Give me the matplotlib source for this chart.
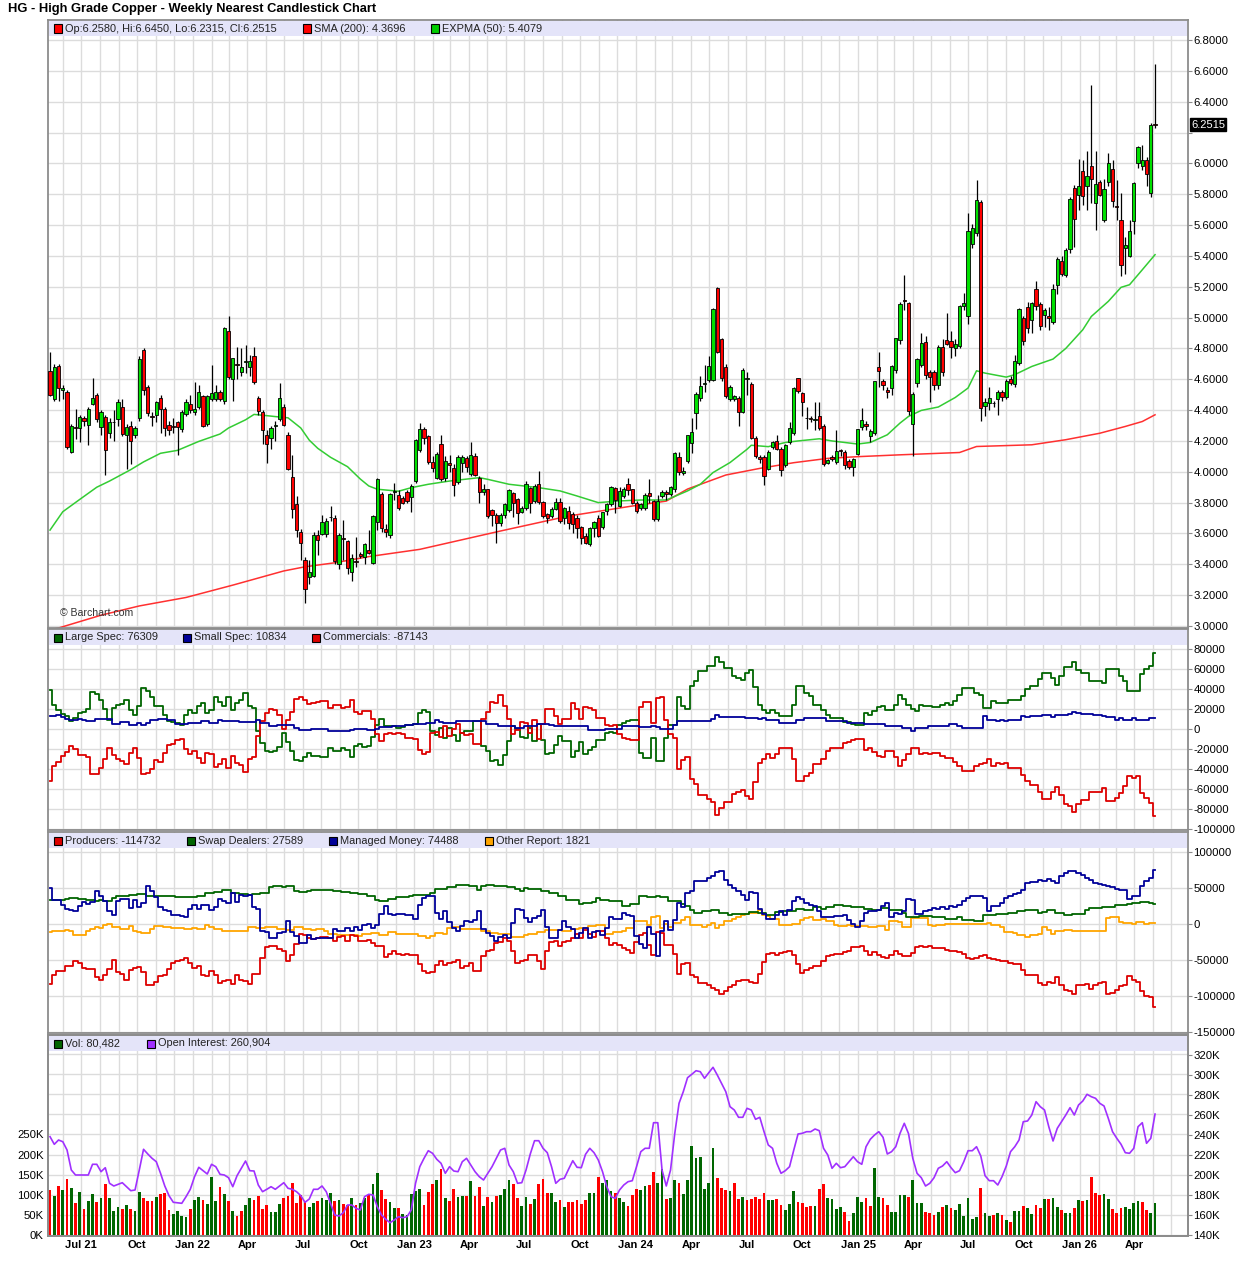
import numpy as np
import pandas as pd
import matplotlib
matplotlib.use('Agg')
import matplotlib.pyplot as plt
import matplotlib.dates as mdates
from matplotlib.patches import Rectangle

plt.rcParams['font.family'] = ['Liberation Sans', 'DejaVu Sans']

W, H = 1236, 1276

# weekly bars, May 2021 - May 2026
weeks = pd.date_range('2021-05-11', periods=261, freq='7D')

# ---- price candles (USD/lb) ----
opens = [
    4.655, 4.475, 4.686, 4.530, 4.517, 4.130, 4.290, 4.285, 4.350, 4.305,
    4.440, 4.500, 4.290, 4.355, 4.250, 4.320, 4.340, 4.420, 4.237, 4.300,
    4.240, 4.350, 4.790, 4.550, 4.360, 4.370, 4.480, 4.410, 4.305, 4.300,
    4.320, 4.277, 4.377, 4.440, 4.390, 4.420, 4.490, 4.310, 4.475, 4.475,
    4.520, 4.456, 4.915, 4.600, 4.700, 4.650, 4.710, 4.680, 4.750, 4.480,
    4.385, 4.237, 4.220, 4.300, 4.340, 4.420, 4.240, 3.967, 3.790, 3.610,
    3.430, 3.320, 3.325, 3.590, 3.596, 3.596, 3.705, 3.700, 3.400, 3.570,
    3.548, 3.350, 3.420, 3.470, 3.450, 3.495, 3.410, 3.675, 3.853, 3.630,
    3.590, 3.872, 3.847, 3.830, 3.868, 3.834, 3.942, 4.141, 4.275, 4.232,
    4.065, 3.962, 4.178, 3.957, 4.059, 4.022, 3.936, 4.055, 4.091, 3.985,
    4.104, 3.962, 3.871, 3.886, 3.752, 3.720, 3.666, 3.720, 3.752, 3.860,
    3.821, 3.741, 3.763, 3.893, 3.813, 3.921, 3.802, 3.724, 3.713, 3.756,
    3.806, 3.698, 3.746, 3.724, 3.698, 3.640, 3.583, 3.529, 3.633, 3.698,
    3.640, 3.748, 3.791, 3.893, 3.780, 3.843, 3.921, 3.886, 3.800, 3.767,
    3.767, 3.860, 3.810, 3.692, 3.840, 3.870, 3.854, 3.886, 4.098, 3.995,
    4.072, 4.184, 4.379, 4.476, 4.570, 4.595, 4.595, 5.190, 4.860, 4.681,
    4.472, 4.472, 4.476, 4.385, 4.604, 4.567, 4.217, 4.098, 4.098, 4.018,
    4.163, 4.200, 4.147, 4.043, 4.195, 4.249, 4.606, 4.508, 4.350, 4.345,
    4.338, 4.364, 4.300, 4.059, 4.098, 4.065, 4.140, 4.130, 4.070, 4.033,
    4.115, 4.290, 4.310, 4.234, 4.250, 4.679, 4.586, 4.532, 4.543, 4.662,
    4.856, 5.115, 5.094, 4.311, 4.575, 4.694, 4.841, 4.646, 4.650, 4.560,
    4.810, 4.852, 4.845, 4.800, 4.817, 5.072, 5.007, 5.479, 5.546, 5.749,
    4.424, 4.445, 4.447, 4.471, 4.517, 4.482, 4.600, 4.569, 4.705, 4.997,
    5.068, 4.986, 5.185, 5.088, 5.018, 5.010, 4.969, 5.213, 5.370, 5.273,
    5.444, 5.840, 5.797, 5.948, 5.850, 5.980, 5.743, 5.879, 5.634, 5.879,
    5.963, 5.725, 5.630, 5.451, 5.401, 5.628, 6.002, 5.985, 6.020, 5.807,
    6.258]
highs = [
    4.780, 4.700, 4.700, 4.560, 4.530, 4.310, 4.410, 4.370, 4.360, 4.420,
    4.610, 4.510, 4.400, 4.370, 4.350, 4.400, 4.470, 4.470, 4.310, 4.330,
    4.300, 4.750, 4.800, 4.560, 4.390, 4.460, 4.500, 4.420, 4.330, 4.350,
    4.330, 4.400, 4.470, 4.500, 4.580, 4.560, 4.500, 4.500, 4.695, 4.560,
    4.530, 4.940, 5.010, 4.740, 4.810, 4.800, 4.820, 4.760, 4.810, 4.490,
    4.400, 4.270, 4.300, 4.330, 4.575, 4.440, 4.260, 4.110, 3.840, 3.630,
    3.450, 3.430, 3.610, 3.620, 3.720, 3.700, 3.780, 3.720, 3.600, 3.690,
    3.560, 3.470, 3.580, 3.480, 3.540, 3.620, 3.720, 3.960, 3.870, 3.660,
    3.860, 3.930, 3.880, 3.840, 3.880, 3.920, 4.210, 4.314, 4.290, 4.240,
    4.100, 4.130, 4.240, 4.100, 4.110, 4.050, 4.110, 4.110, 4.100, 4.190,
    4.120, 3.970, 3.920, 3.890, 3.760, 3.730, 3.730, 3.800, 3.890, 3.870,
    3.830, 3.780, 3.940, 3.900, 3.920, 4.005, 3.810, 3.730, 3.770, 3.830,
    3.830, 3.770, 3.780, 3.740, 3.720, 3.650, 3.600, 3.640, 3.680, 3.720,
    3.740, 3.800, 3.910, 3.900, 3.900, 3.900, 3.960, 3.890, 3.810, 3.800,
    3.860, 3.950, 3.820, 3.850, 3.880, 3.880, 3.910, 4.130, 4.130, 4.030,
    4.240, 4.350, 4.520, 4.620, 4.690, 4.750, 5.060, 5.200, 4.870, 4.700,
    4.560, 4.500, 4.490, 4.670, 4.650, 4.580, 4.230, 4.110, 4.110, 4.140,
    4.200, 4.240, 4.160, 4.180, 4.320, 4.550, 4.610, 4.520, 4.420, 4.360,
    4.450, 4.450, 4.310, 4.080, 4.110, 4.270, 4.150, 4.140, 4.080, 4.090,
    4.280, 4.413, 4.330, 4.280, 4.590, 4.774, 4.600, 4.550, 4.690, 4.870,
    5.100, 5.278, 5.100, 4.520, 4.740, 4.900, 4.880, 4.660, 4.660, 4.820,
    4.860, 5.030, 4.910, 4.860, 5.080, 5.160, 5.680, 5.610, 5.894, 5.760,
    4.480, 4.550, 4.460, 4.530, 4.530, 4.600, 4.620, 4.760, 5.060, 5.010,
    5.100, 5.100, 5.240, 5.100, 5.060, 5.070, 5.220, 5.390, 5.400, 5.450,
    5.780, 5.860, 6.030, 6.020, 6.080, 6.510, 6.080, 5.890, 5.900, 6.070,
    6.020, 5.890, 5.810, 5.520, 5.630, 5.880, 6.110, 6.120, 6.040, 6.260,
    6.645]
lows = [
    4.490, 4.460, 4.460, 4.470, 4.145, 4.120, 4.210, 4.190, 4.300, 4.175,
    4.430, 4.320, 4.240, 3.980, 4.220, 4.200, 4.300, 4.230, 4.020, 4.050,
    4.220, 4.330, 4.500, 4.360, 4.300, 4.320, 4.250, 4.230, 4.240, 4.250,
    4.110, 4.260, 4.360, 4.380, 4.370, 4.410, 4.290, 4.300, 4.460, 4.460,
    4.460, 4.440, 4.600, 4.456, 4.600, 4.620, 4.640, 4.620, 4.570, 4.370,
    4.180, 4.060, 4.150, 4.200, 4.330, 4.300, 4.010, 3.700, 3.580, 3.430,
    3.150, 3.270, 3.320, 3.460, 3.590, 3.580, 3.680, 3.400, 3.370, 3.430,
    3.340, 3.290, 3.380, 3.440, 3.400, 3.470, 3.400, 3.620, 3.610, 3.580,
    3.570, 3.820, 3.750, 3.790, 3.800, 3.740, 3.930, 4.130, 4.180, 4.050,
    4.000, 3.950, 3.940, 3.940, 4.000, 3.840, 3.920, 4.000, 4.000, 3.970,
    3.970, 3.800, 3.850, 3.700, 3.650, 3.540, 3.650, 3.700, 3.740, 3.710,
    3.660, 3.730, 3.750, 3.730, 3.800, 3.790, 3.700, 3.670, 3.700, 3.750,
    3.670, 3.660, 3.630, 3.600, 3.570, 3.530, 3.530, 3.520, 3.580, 3.580,
    3.630, 3.720, 3.780, 3.730, 3.770, 3.830, 3.850, 3.790, 3.730, 3.750,
    3.750, 3.800, 3.680, 3.680, 3.830, 3.820, 3.840, 3.870, 3.980, 3.980,
    4.060, 4.120, 4.280, 4.460, 4.520, 4.580, 4.590, 4.770, 4.590, 4.480,
    4.460, 4.460, 4.300, 4.380, 4.500, 4.210, 4.090, 4.060, 3.914, 4.010,
    4.150, 4.140, 3.970, 4.030, 4.180, 4.240, 4.510, 4.360, 4.280, 4.320,
    4.270, 4.270, 4.040, 4.050, 4.070, 4.050, 4.100, 4.020, 4.020, 3.970,
    4.110, 4.270, 4.270, 4.190, 4.240, 4.550, 4.530, 4.480, 4.500, 4.640,
    4.830, 5.050, 4.370, 4.100, 4.550, 4.680, 4.600, 4.450, 4.530, 4.540,
    4.620, 4.820, 4.740, 4.750, 4.800, 5.050, 4.960, 5.450, 5.530, 4.330,
    4.360, 4.400, 4.420, 4.370, 4.460, 4.470, 4.560, 4.550, 4.690, 4.820,
    4.900, 4.900, 5.050, 4.920, 4.940, 4.920, 4.960, 5.150, 5.270, 5.260,
    5.420, 5.460, 5.700, 5.730, 5.700, 5.740, 5.570, 5.790, 5.620, 5.850,
    5.720, 5.630, 5.270, 5.280, 5.390, 5.540, 5.970, 5.960, 5.850, 5.780,
    6.2315]
closes = [
    4.501, 4.680, 4.541, 4.545, 4.160, 4.300, 4.285, 4.355, 4.330, 4.410,
    4.480, 4.340, 4.390, 4.140, 4.320, 4.325, 4.450, 4.245, 4.290, 4.200,
    4.285, 4.730, 4.530, 4.380, 4.355, 4.450, 4.410, 4.285, 4.270, 4.290,
    4.290, 4.390, 4.455, 4.400, 4.410, 4.515, 4.300, 4.490, 4.510, 4.520,
    4.475, 4.930, 4.615, 4.735, 4.690, 4.680, 4.720, 4.720, 4.580, 4.395,
    4.270, 4.180, 4.285, 4.305, 4.480, 4.305, 4.020, 3.760, 3.620, 3.535,
    3.240, 3.350, 3.590, 3.556, 3.675, 3.683, 3.710, 3.424, 3.590, 3.565,
    3.376, 3.440, 3.415, 3.453, 3.530, 3.476, 3.715, 3.953, 3.635, 3.610,
    3.853, 3.876, 3.768, 3.800, 3.810, 3.908, 4.206, 4.275, 4.217, 4.061,
    4.022, 4.113, 3.951, 4.072, 4.044, 3.914, 4.098, 4.098, 4.029, 4.109,
    3.979, 3.871, 3.890, 3.713, 3.720, 3.670, 3.720, 3.789, 3.882, 3.800,
    3.735, 3.763, 3.921, 3.800, 3.908, 3.806, 3.713, 3.698, 3.756, 3.806,
    3.681, 3.763, 3.666, 3.661, 3.633, 3.573, 3.540, 3.633, 3.672, 3.583,
    3.737, 3.791, 3.903, 3.817, 3.877, 3.886, 3.882, 3.800, 3.746, 3.789,
    3.847, 3.840, 3.692, 3.810, 3.870, 3.855, 3.904, 4.120, 3.996, 4.005,
    4.238, 4.255, 4.502, 4.558, 4.575, 4.688, 5.053, 4.780, 4.606, 4.491,
    4.547, 4.491, 4.385, 4.660, 4.604, 4.217, 4.102, 4.080, 3.975, 4.126,
    4.190, 4.147, 4.011, 4.173, 4.281, 4.541, 4.526, 4.450, 4.346, 4.342,
    4.345, 4.282, 4.048, 4.076, 4.080, 4.137, 4.137, 4.044, 4.033, 4.083,
    4.275, 4.337, 4.294, 4.262, 4.586, 4.651, 4.564, 4.517, 4.683, 4.867,
    5.088, 5.110, 4.391, 4.504, 4.731, 4.835, 4.629, 4.614, 4.560, 4.810,
    4.650, 4.830, 4.810, 4.830, 5.072, 5.094, 5.563, 5.580, 5.760, 4.413,
    4.452, 4.478, 4.445, 4.517, 4.482, 4.586, 4.575, 4.716, 5.055, 4.845,
    4.932, 5.094, 5.072, 4.944, 5.046, 5.000, 5.185, 5.379, 5.282, 5.436,
    5.769, 5.639, 5.855, 5.790, 5.916, 5.898, 5.866, 5.797, 5.836, 6.002,
    5.753, 5.720, 5.338, 5.468, 5.559, 5.872, 6.106, 6.020, 5.933, 6.250,
    6.2515]

# indicator lines (week index, value)
ema_week = [0, 3, 7, 11, 14, 19, 22, 26, 30, 35, 40, 42, 46, 48, 51, 53, 56, 59, 61, 63,
            66, 70, 73, 75, 77, 82, 85, 89, 94, 101, 103, 108, 115, 120, 124, 129, 134, 139, 145, 150,
            153, 156, 160, 164, 165, 169, 173, 176, 181, 184, 190, 193, 197, 200, 202, 205, 209, 213, 216, 218,
            220, 225, 227, 231, 236, 239, 243, 245, 249, 252, 254, 257, 260]
ema50 = [3.622, 3.741, 3.821, 3.900, 3.940, 4.014, 4.064, 4.120, 4.139, 4.197, 4.245, 4.284, 4.337, 4.372,
         4.364, 4.358, 4.350, 4.284, 4.205, 4.152, 4.094, 4.033, 3.953, 3.908, 3.887, 3.874, 3.897, 3.919,
         3.940, 3.962, 3.951, 3.919, 3.897, 3.876, 3.843, 3.800, 3.811, 3.817, 3.817, 3.876, 3.919, 3.995,
         4.060, 4.146, 4.172, 4.163, 4.190, 4.200, 4.214, 4.200, 4.180, 4.190, 4.240, 4.316, 4.359, 4.398,
         4.420, 4.482, 4.543, 4.655, 4.640, 4.614, 4.630, 4.683, 4.731, 4.800, 4.921, 5.007, 5.105, 5.196,
         5.213, 5.310, 5.4079]
sma_week = [0, 2, 12, 21, 32, 43, 55, 60, 67, 75, 87, 106, 122, 137, 145, 150, 159, 167, 175, 183,
            190, 200, 214, 218, 231, 239, 247, 253, 257, 260]
sma200 = [2.975, 2.987, 3.070, 3.130, 3.185, 3.265, 3.357, 3.384, 3.410, 3.450, 3.497, 3.616, 3.713, 3.778,
          3.810, 3.888, 3.979, 4.022, 4.059, 4.087, 4.098, 4.110, 4.125, 4.164, 4.175, 4.208, 4.250, 4.294,
          4.326, 4.3696]

# ---- volume and open interest (thousands of contracts) ----
volume_k = [
    112.5, 98, 122.5, 112.5, 140, 117.5, 80, 107.5, 65, 85,
    102.5, 82.5, 92.5, 127.5, 92.5, 60, 70, 65, 75, 65,
    60, 107.5, 92.5, 85, 85, 95, 102.5, 105, 62.5, 52.5,
    60, 47.5, 45, 65, 87.5, 95, 87.5, 77.5, 145, 85,
    120, 102.5, 85, 60, 47.5, 60, 75, 92.5, 87.5, 97.5,
    65, 75, 57.5, 57.5, 77.5, 92.5, 97.5, 130, 80, 100,
    85, 70, 80, 85, 92.5, 87.5, 105, 85, 87.5, 77.5,
    75, 92.5, 75, 80, 92.5, 100, 127.5, 155, 112.5, 90,
    82.5, 67.5, 67.5, 52.5, 50, 102.5, 110, 115, 75, 107.5,
    127.5, 137.5, 165, 92.5, 85, 115, 95, 97.5, 97.5, 135,
    97.5, 120, 72.5, 95, 82.5, 97.5, 100, 115, 137.5, 127.5,
    92.5, 72.5, 95, 77.5, 90, 127.5, 140, 105, 105, 82.5,
    87.5, 70, 82.5, 82.5, 87.5, 77.5, 87.5, 105, 105, 145,
    130, 137.5, 110, 105, 91.7, 82.5, 72.5, 100, 115, 112.5,
    122.5, 125, 157.5, 130, 165, 90, 92.5, 137.5, 130, 102.5,
    137.5, 222.5, 192.5, 195, 115, 130, 217.5, 142.5, 117.5, 112.5,
    110, 130, 90, 95, 87.5, 90, 95, 90, 105, 87.5,
    87.5, 90, 75, 62.5, 77.5, 110, 82.5, 80, 70, 72.5,
    72.5, 115, 127.5, 92.5, 90, 65, 70, 57.5, 35, 55,
    95, 82.5, 92.5, 72.5, 167.5, 95, 92.5, 75, 57.5, 57.5,
    100, 100, 95, 137.5, 80, 80, 57.5, 55, 50, 57.5,
    70, 75, 67.5, 62.5, 77.5, 47.5, 92.5, 40, 45, 117.5,
    55, 47.5, 50, 55, 50, 37.5, 32.5, 60, 60, 72.5,
    67.5, 52.5, 75, 67.5, 90, 90, 92.5, 70, 62.5, 55,
    55, 67.5, 87.5, 85, 87.5, 145, 105, 100, 102.5, 90,
    65, 55, 67.5, 70, 65, 80, 85, 82.5, 62.5, 55,
    80.482]
open_interest_k = [
    238.3, 230.7, 235, 233.3, 225, 205, 200, 200, 200, 200,
    210.7, 210.7, 203.3, 207.3, 191.7, 189, 190.7, 192.3, 188.3, 184.3,
    185, 205, 225.7, 221, 216.7, 213.3, 201.7, 189, 179.3, 172.7,
    172.2, 171.7, 178.3, 185.7, 198.3, 207.7, 204.3, 201, 210.7, 208.3,
    200.7, 200, 197.3, 188.3, 199.3, 206.7, 214, 204.3, 204, 190,
    183.3, 185.7, 188.3, 185.7, 189, 192.3, 186.7, 185.7, 183.3, 179.3,
    172.7, 176, 185.7, 185.7, 189, 183.3, 171.7, 160, 159, 162.3,
    170, 170, 166.7, 165, 178.3, 180.7, 180, 168.3, 160, 155.7,
    152.3, 155, 158.3, 157.3, 158.3, 165, 191.7, 208.3, 216.7, 224.3,
    221.7, 215.7, 211.7, 201.7, 208.3, 204, 203.3, 213.3, 216.7, 210,
    203.3, 198.3, 195, 201.7, 208.3, 216.7, 225, 226.7, 210, 203.3,
    191.7, 192.3, 205, 221, 234.3, 234.3, 226.7, 222.3, 208.3, 191.7,
    195.7, 196.7, 205.7, 214.3, 207.7, 207.3, 220.7, 226.7, 222.3, 215,
    203.3, 188.3, 178.3, 176.7, 185, 190, 193.3, 194.3, 208.3, 223.3,
    226.7, 226.7, 252.3, 252.3, 205, 189, 205, 241.7, 271.7, 283.3,
    297.3, 300.7, 304.3, 303.3, 296.7, 302.3, 307.7, 300, 291.7, 283.3,
    268.3, 265, 257.7, 257.7, 266.7, 265, 255.7, 257.7, 243.3, 230,
    226.7, 211.7, 201.7, 204.3, 208.3, 225, 241, 241.7, 243.3, 243.3,
    246, 244.3, 226.7, 220, 206.7, 211.7, 207.3, 208.3, 213.3, 218.3,
    213.3, 210.7, 228.3, 235.7, 240, 243.3, 237.7, 221, 223.3, 228.3,
    241.7, 251.7, 241.3, 216.7, 201.7, 197.3, 189, 191.7, 197.3, 206.7,
    209, 213.3, 207.3, 202.3, 204.3, 213.3, 224.3, 224.3, 228.3, 219,
    199.3, 194.3, 194.3, 190, 198.3, 209, 223.3, 228.3, 235, 253.3,
    254, 260, 273.3, 268.3, 265, 248.3, 234, 246.7, 253.3, 260,
    267.3, 260, 270, 274, 280.7, 278.3, 276.7, 271.7, 269, 256.7,
    243.3, 236.7, 230.7, 222.3, 221.7, 226.7, 248.3, 252.3, 231.7, 236.7,
    260.904]

# ---- COT legacy net positions (thousands of contracts) ----
large_spec_k = [
    39, 24.3, 19.3, 15, 12.7, 7.7, 11, 16, 16.7, 20,
    37, 35.3, 29.3, 20, 9.3, 21, 24.3, 25, 28.7, 19.3,
    14.3, 23.3, 41, 37.7, 31.7, 22.7, 22.7, 14.3, 7.7, 6.7,
    6, 4.3, 14.3, 19.3, 16, 22.7, 26, 16, 19.3, 31.7,
    26.7, 22.7, 31.7, 19.3, 26, 29.3, 36, 23.3, 21, -2.3,
    -14, -22.3, -23, -21.7, -18.3, -4, -13, -21.7, -30.7, -31.7,
    -28.3, -24, -26.7, -27.3, -28, -28, -19, -22.3, -21.7, -19,
    -20.7, -28.3, -17.3, -15, -18.3, -16.7, -8.3, 4.3, 10, 3.3,
    2.7, 2.7, 1, 1.7, 4.3, 4.3, 5, 16, 19.3, 17,
    -2.3, -5.7, 1, -9, 1, -5.7, -12.3, -4, -1.7, -2.3,
    7.7, 7.7, -17.3, -22.3, -32.3, -30.7, -36.3, -25.7, -12.3, 2.7,
    0.3, -8.3, -9, 1, -11.7, 5, -10.7, -25, -24, -15.7,
    -7.3, -12.3, -12.3, -28.3, -22.3, -13, -25, -20.7, -18.3, -10.7,
    -10.7, -4, -3, -4, 4.3, 6, 7.7, 8.7, 8.7, -24,
    -29, -29, -9, -32.3, -32.3, -9, 4.3, 4.3, 32, 22.7,
    20, 42.7, 47.7, 58.3, 58.3, 62.7, 62.7, 72, 66.7, 61,
    61, 52.7, 51, 49.3, 56, 59.3, 42, 23.7, 19.3, 16,
    19.3, 16, 12.7, 12.7, 12.7, 24.3, 42.7, 42.7, 36, 32.7,
    24.3, 24.3, 19.3, 14.3, 11, 11, 11, 6.7, 6.7, 5.3,
    4.3, 4.3, 16, 14.3, 17.7, 21.7, 22.7, 19, 19, 24.3,
    33.7, 30.3, 24.3, 20.3, 18.3, 23.7, 22.7, 22.7, 21.7, 21.7,
    24.3, 26, 24.3, 28.3, 33.7, 41, 41, 41, 36, 33.7,
    21, 21, 27.7, 26, 26, 26, 29.3, 29.3, 29.3, 33.3,
    40, 43.3, 43.3, 50, 56, 56, 51, 44.3, 52.7, 61.7,
    61.7, 66.7, 59.3, 56, 56, 48.3, 48.3, 48.3, 46, 60,
    60, 60, 52.7, 47.7, 37.7, 37.7, 37.7, 55, 60, 63.3,
    76.309]
small_spec_k = [
    12.7, 12.7, 13.7, 12, 10, 9.3, 9.3, 10, 9, 7.7,
    7.7, 10, 10, 10, 10, 5.3, 5.3, 6.7, 6.7, 4.3,
    4.3, 6, 4.3, 6, 8.7, 8.7, 10, 10, 8.7, 8.7,
    5.3, 5.3, 5.3, 6, 6, 6, 7.7, 7.7, 6, 6,
    8.7, 7.7, 7.7, 7.7, 7.7, 6.7, 6.7, 6.7, 6.7, 9.3,
    6, 6, 2.7, 2.7, 4.3, 4.3, 4.3, 4.3, 1, -0.7,
    -0.7, -0.7, 0.3, 0.3, 0.3, 0.3, -1.7, -1.7, -2.3, -2.3,
    -1.7, -0.7, 0.3, 0.3, 0.3, -1.3, -1.3, 0.3, 1.7, 1.7,
    1.7, 2.7, 2.7, 3.5, 4.3, 4.3, 5.3, 5.3, 5.3, 6,
    6, 8.7, 7, 6, 6, 6, 7.7, 7.7, 7.7, 7.7,
    7.7, 7.7, 7.7, 5, 5, 5, 2.7, 2.7, 2.7, 2.7,
    1, 1, 2.7, 2.7, 2.7, 5.3, 5.3, 5.3, 4.3, 2.7,
    2.7, 2.7, 2.7, 2.7, 2.7, 2.7, 2.7, -0.7, -0.7, -0.7,
    -0.7, 0, 0, 0.3, 0.3, 2.7, 2.7, 2.7, 2.7, 1.7,
    1.7, 1.7, 2.7, 1.7, 0.3, 0.3, 0.3, 4.3, 8.3, 8.3,
    8.3, 7.7, 7.7, 7.7, 7.7, 7.7, 10, 13.7, 12, 12,
    12, 12, 12, 12, 11, 11, 11, 10, 11, 9.3,
    9.3, 9.3, 6, 6, 6, 6, 9.3, 9.3, 11, 11,
    11, 11, 11, 7.7, 7.7, 7.7, 7.7, 7.7, 6, 6,
    6, 6, 5, 5, 5, 5, 5, 3.3, 3.3, 3.3,
    3.3, 1, 1, -1.7, 1, 1, 1, 2.7, 2.7, 2.7,
    2.7, 2.7, 5, 5, 3.3, 1, 1, 1, 1, 1,
    12.7, 9.3, 9.3, 8.3, 9.3, 8.3, 9.3, 9.3, 9.3, 12.7,
    11.7, 12.7, 12.7, 12.7, 13.7, 13.7, 12, 13.7, 13.7, 13.7,
    15, 16.7, 16, 15, 15, 15, 14.3, 14.3, 12.7, 11.7,
    11.7, 9.3, 11, 9.3, 9.3, 11, 9.3, 9.3, 9.3, 10.8,
    10.834]
commercials_k = [
    -51.7, -37, -33, -27, -22.7, -17, -20.3, -26, -25.7, -27.7,
    -44.7, -45.3, -39.3, -30, -19.3, -26.3, -29.6, -31.7, -35.4, -23.6,
    -18.6, -29.3, -45.3, -43.7, -40.4, -31.4, -32.7, -24.3, -16.4, -15.4,
    -11.3, -9.6, -19.6, -25.3, -22, -28.7, -33.7, -23.7, -25.3, -37.7,
    -35.4, -30.4, -39.4, -27, -33.7, -36, -42.7, -30, -27.7, -7,
    8, 16.3, 20.3, 19, 14, -0.3, 8.7, 17.4, 29.7, 32.4,
    29, 24.7, 26.4, 27, 27.7, 27.7, 20.7, 24, 24, 21.3,
    22.4, 29, 17, 14.7, 18, 18, 9.6, -4.6, -11.7, -5,
    -4.4, -5.4, -3.7, -5.2, -8.6, -8.6, -10.3, -21.3, -24.6, -23,
    -3.7, -3, -8, 3, -7, -0.3, 4.6, -3.7, -6, -5.4,
    -15.4, -15.4, 9.6, 17.3, 27.3, 25.7, 33.6, 23, 9.6, -5.4,
    -1.3, 7.3, 6.3, -3.7, 9, -10.3, 5.4, 19.7, 19.7, 13,
    4.6, 9.6, 9.6, 25.6, 19.6, 10.3, 22.3, 21.4, 19, 11.4,
    11.4, 4, 3, 3.7, -4.6, -8.7, -10.4, -11.4, -11.4, 22.3,
    27.3, 27.3, 6.3, 30.6, 32, 8.7, -4.6, -8.6, -40.3, -31,
    -28.3, -50.4, -55.4, -66, -66, -70.4, -72.7, -85.7, -78.7, -73,
    -73, -64.7, -63, -61.3, -67, -70.3, -53, -33.7, -30.3, -25.3,
    -28.6, -25.3, -18.7, -18.7, -18.7, -30.3, -52, -52, -47, -43.7,
    -35.3, -35.3, -30.3, -22, -18.7, -18.7, -18.7, -14.4, -12.7, -11.3,
    -10.3, -10.3, -21, -19.3, -22.7, -26.7, -27.7, -22.3, -22.3, -27.6,
    -37, -31.3, -25.3, -18.6, -19.3, -24.7, -23.7, -25.4, -24.4, -24.4,
    -27, -28.7, -29.3, -33.3, -37, -42, -42, -42, -37, -34.7,
    -33.7, -30.3, -37, -34.3, -35.3, -34.3, -38.6, -38.6, -38.6, -46,
    -51.7, -56, -56, -62.7, -69.7, -69.7, -63, -58, -66.4, -75.4,
    -76.7, -83.4, -75.3, -71, -71, -63.3, -62.6, -62.6, -58.7, -71.7,
    -71.7, -69.3, -63.7, -57, -47, -48.7, -47, -64.3, -69.3, -74.1,
    -87.143]

# ---- COT disaggregated net positions (thousands of contracts) ----
producers_k = [
    -83.3, -70.4, -65.7, -65.7, -58.8, -57.9, -51.9, -54.2, -61.1, -62,
    -62, -74.1, -77.3, -70.4, -62.5, -50.5, -67.1, -69.4, -77.3, -63.4,
    -61.1, -59.7, -67.1, -84.3, -84.3, -80.6, -71.8, -70.4, -62, -54.2,
    -50.9, -49.5, -47.2, -54.2, -61.1, -58.8, -70.4, -72.7, -65.7, -70.4,
    -81.9, -78.7, -77.3, -83.3, -70.4, -77.3, -78.7, -83.3, -69.4, -69.4,
    -47.2, -32.4, -31, -31, -34.3, -37, -51.9, -42.6, -27.8, -13.9,
    -14.8, -19.4, -20.4, -19.4, -18.5, -18.5, -19.4, -24.1, -18.5, -17.1,
    -24.1, -15.7, -17.1, -24.1, -24.1, -21.8, -26.4, -31, -31, -46.3,
    -41.7, -38, -41.7, -42.6, -41.7, -42.6, -42.6, -55.6, -64.8, -68.1,
    -66.7, -56.5, -51.9, -56.5, -54.2, -52.8, -49.5, -61.1, -58.8, -54.2,
    -64.8, -64.8, -44.9, -38, -35.6, -26.4, -25, -19.4, -24.1, -37,
    -54.2, -51.9, -49.5, -42.6, -42.6, -50.9, -62.5, -37, -25, -24.1,
    -31, -25, -23.1, -19.4, -13.9, -19.4, -7.9, -13.9, -18.5, -10.2,
    -10.2, -19.4, -28.7, -26.4, -29.6, -33.3, -35.6, -40.3, -25, -15.7,
    -12.5, -28.7, -43.5, -11.1, -12.5, -29.6, -29.6, -41.7, -69, -55.1,
    -54.2, -70.4, -74.1, -81.9, -81.9, -85.2, -88.9, -91.2, -97.2, -92.6,
    -87.5, -85.2, -79.6, -77.3, -78.2, -80.6, -81.9, -69, -52.8, -41.7,
    -40.3, -42.6, -40.3, -38.9, -37, -42.6, -55.6, -68.1, -63.4, -61.1,
    -58.8, -58.8, -51.9, -44.9, -42.6, -41.7, -41.7, -38.9, -37, -32.4,
    -32.4, -31, -37, -43.5, -38.9, -43.5, -46.3, -47.2, -42.6, -38,
    -41.7, -44.9, -44.9, -40.3, -31.9, -31, -31.9, -31, -33.3, -33.3,
    -33.3, -35.6, -37, -37, -38.9, -41.7, -47.2, -48.1, -47.2, -44.9,
    -43.5, -47.2, -48.6, -49.5, -50.9, -50.9, -54.2, -55.6, -55.6, -63.4,
    -70.4, -70.4, -70.4, -81.9, -84.3, -80.6, -81.9, -74.1, -84.3, -92.1,
    -93.5, -96.8, -84.3, -84.3, -83.3, -89.8, -85.2, -81.9, -80.6, -97.2,
    -95.8, -92.1, -86.6, -85.2, -72.7, -77.3, -80.6, -93.5, -100.5, -101.9,
    -114.732]
swap_dealers_k = [
    33.8, 33.8, 33.8, 33.8, 35.2, 36.1, 36.1, 34.7, 34.7, 32.9,
    32.9, 31.5, 33.8, 32.4, 32.4, 36.1, 39.4, 39.4, 38.4, 40.7,
    40.7, 41.7, 41.7, 38.4, 38.4, 38.4, 38.4, 38.4, 38.4, 38.4,
    37, 37, 37, 37, 37, 39.4, 39.4, 43.1, 43.1, 44.4,
    44.4, 46.8, 46.8, 43.1, 43.1, 41.7, 41.7, 40.7, 42.1, 42.1,
    43.1, 43.1, 50.9, 52.3, 53.2, 51.4, 52.3, 52.3, 46.3, 44.4,
    44.4, 45.4, 46.8, 46.8, 46.8, 46.8, 46.8, 45.4, 45.4, 44.4,
    44.4, 43.1, 43.1, 41.7, 41.7, 38.4, 38.4, 33.8, 32.4, 32.4,
    34.7, 34.7, 37, 37, 37, 38.4, 39.8, 39.8, 40.7, 40.7,
    43.1, 48.6, 48.6, 48.6, 51.4, 51.4, 53.7, 54.6, 54.6, 52.3,
    52.3, 47.7, 52.3, 53.7, 53.7, 52.3, 52.3, 52.3, 50.9, 50.9,
    48.6, 46.3, 50, 48.6, 48.6, 48.6, 46.3, 46.3, 43.1, 43.1,
    38.4, 38.4, 33.8, 33.8, 33.8, 27.8, 29.2, 29.2, 30.6, 36.1,
    33.8, 33.8, 32.4, 32.4, 32.4, 25.5, 25.5, 27.8, 27.8, 39.4,
    39.4, 37, 37, 39.4, 37, 37, 32.4, 32.4, 32.4, 27.8,
    24.5, 19.9, 15.3, 15.3, 17.6, 17.6, 19.9, 19.9, 15.3, 15.3,
    12, 14.4, 14.4, 14.4, 14.4, 16.7, 16.7, 15.3, 15.3, 12,
    12, 16.2, 16.2, 18.5, 18.5, 18.5, 20.8, 20.8, 19.9, 19.9,
    23.6, 23.6, 20.8, 23.2, 23.2, 25.9, 25.9, 24.5, 24.5, 23.6,
    23.6, 23.6, 21.3, 21.3, 19.9, 19.9, 22.2, 22.2, 19.9, 19.9,
    19.9, 15.3, 9.3, 9.3, 9.3, 11.6, 11.6, 11.6, 9.3, 9.3,
    9.3, 7.4, 7.4, 7.4, 9.3, 6, 6, 6, 4.6, 4.6,
    12, 12, 12, 13.9, 13.9, 13.9, 15.3, 15.3, 17.6, 17.6,
    19.9, 19.9, 19.9, 15.3, 16.7, 19.9, 19.9, 15.3, 15.3, 13,
    13, 13.9, 13.9, 13.9, 19.9, 22.2, 22.2, 22.2, 23.6, 23.2,
    23.2, 26.9, 26.9, 26.9, 27.8, 29.2, 29.2, 30.6, 30.6, 29.2,
    27.589]
managed_money_k = [
    50, 33.8, 33.8, 25.9, 21.3, 19.9, 18.5, 25.5, 30.6, 27.8,
    30.6, 45.4, 38.4, 31.5, 18.5, 12, 31.5, 34.7, 34.7, 22.2,
    33.8, 23.2, 29.2, 52.3, 45.4, 37, 23.2, 19.9, 18.5, 12,
    12, 10.6, 9.3, 21.3, 25.9, 20.8, 26.9, 26.9, 19.9, 23.2,
    35.2, 32.4, 29.2, 43.1, 30.6, 40.7, 38.4, 40.7, 23.6, 21.3,
    -10.2, -11.1, -19.4, -19.4, -12.5, -11.1, 3.7, -11.1, -17.1, -26.4,
    -26.4, -14.8, -20.4, -19.4, -19.4, -19.4, -19.4, -6.5, -10.2, -10.2,
    -5.6, -10.2, -4.6, -7.9, -1.9, 0, -5.6, -0.9, 13.9, 24.5,
    13.9, 12, 13.9, 13.9, 12, 12, 7.4, 25.9, 36.1, 39.4,
    38.4, 15.3, 7.4, 17.6, 2.8, -5.6, -9.3, -3.2, 4.6, 2.8,
    6, 17.6, -6.5, -12.5, -17.1, -24.1, -18.5, -14.8, -19.4, 1.4,
    21.3, 19.9, 8.3, 2.3, 8.3, 10.6, 19.9, -4.6, -19.4, -19.4,
    -7.9, 3.7, -4.6, -6.5, -19.4, -12.5, -5.6, -19.4, -11.1, -10.2,
    -15.7, -5.6, 9.3, 7.4, 7.4, 15.3, 13, 10.6, -17.1, -27.8,
    -33.3, -4.6, -13.9, -44.9, -10.2, 4.6, -7.9, 6, 29.2, 23.2,
    43.1, 45.4, 60.2, 60.2, 60.2, 63.7, 66.7, 72.7, 74.1, 61.6,
    53.7, 50, 46.3, 40.7, 32.9, 44, 42.6, 21.3, 13.9, 7.4,
    7.4, 13, 18.5, 12, 19.9, 31.5, 37, 35.2, 29.2, 25.9,
    24.5, 18.5, 9.3, 9.3, 9.3, 10.6, 10.6, 13, 6, 0,
    -4.6, 3.7, 15.3, 18.5, 17.6, 19.9, 24.5, 29.2, 9.3, 15.3,
    13.9, 17.6, 34.7, 33.8, 13.9, 13.9, 17.6, 19.9, 22.2, 21.3,
    23.2, 21.3, 24.5, 23.2, 25.9, 32.4, 36.1, 38.4, 38.4, 38.4,
    36.1, 17.6, 24.5, 24.5, 29.2, 36.1, 38.4, 41.7, 43.1, 47.7,
    56.9, 58.3, 57.9, 61.6, 60.2, 63, 60.2, 56.9, 66.2, 70.8,
    74.1, 74.1, 70.8, 67.6, 63.9, 61.6, 56.9, 55.6, 54.6, 52.3,
    50.9, 48.6, 47.7, 46.8, 34.7, 38.4, 38.4, 52.3, 60.2, 63.9,
    74.488]
other_report_k = [
    -11.6, -10.2, -10.2, -10.2, -8.8, -10.2, -15.7, -14.8, -14.8, -10.2,
    -6.5, -4.2, -5.6, -0.9, 0.5, -4.6, -4.6, -6.5, -6.5, -3.2,
    -9.3, -11.6, -12.5, -12.5, -6.9, -2.3, -2.3, -4.2, -4.2, -5.6,
    -5.6, -5.6, -6.9, -6.9, -5.6, -6.9, -6.9, -1.9, -4.6, -6.9,
    -6.9, -9.3, -9.3, -10.2, -10.2, -10.2, -10.2, -4.6, -4.6, -5.6,
    -5.6, -4.6, -4.6, -4.6, -6.5, -6.5, -7.9, -7.9, -4.6, -4.6,
    -6.5, -6.5, -7.9, -6.9, -6.9, -10.2, -13.9, -13.9, -15.7, -15.7,
    -15.7, -14.8, -14.8, -17.1, -13.9, -13.9, -12.5, -12.5, -14.8, -14.8,
    -11.1, -11.1, -13.9, -13.9, -13.9, -13.9, -13.9, -17.1, -17.1, -19.4,
    -17.1, -12.5, -12.5, -13.9, -5.6, -4.6, -4.6, -6.5, -6.5, -6.5,
    -6.9, -6.9, -10.2, -10.2, -12.5, -12.5, -13.9, -13.9, -13.9, -18.5,
    -18.5, -18.5, -14.8, -13.9, -13.9, -11.1, -11.1, -7.9, -7.9, -7.9,
    -7.9, -9.3, -9.3, -6.5, -6.5, -5.6, -5.6, -3.2, -3.2, -1.9,
    -1.9, -13.9, -13.9, -11.1, -11.1, -9.3, -5.6, -5.6, 4.6, 3.7,
    4.6, -0.9, 9.3, 10.6, -5.6, 0, -4.6, 1.4, 1.4, 6,
    9.3, -0.9, -0.9, -0.9, -4.2, -0.9, 1.4, -5.6, -0.9, 3.7,
    4.6, 7.4, 9.3, 12, 13.9, 15.3, 15.3, 19.9, 12, 10.6,
    7.4, 7.4, -0.9, -0.9, -0.9, 0, 0, 6, 8.3, 9.3,
    6, 6, 7.4, 3.7, 3.7, -0.9, -2.3, -2.3, -0.9, -3.2,
    -3.2, -3.2, -3.2, -4.2, -4.2, -3.2, -3.2, -7.9, 3.7, 3.7,
    2.8, -4.2, -4.2, 8.3, 8.3, 8.3, 8.3, -0.9, -3.2, -0.9,
    -0.9, 0, 0, 0, 0, 0, 0, 0, 0, 0,
    0, 1.4, -1.9, -1.9, -4.6, -11.1, -11.1, -12.5, -15.7, -15.7,
    -18.5, -15.7, -15.7, -13.9, -4.6, -7.9, -13.9, -9.3, -9.3, -7.9,
    -7.9, -9.3, -10.2, -10.2, -10.2, -10.2, -10.2, -10.2, -10.2, 8.3,
    9.3, 9.3, 2.8, 1.4, 1.4, 0, 2.3, 2.3, 0, 0.9,
    1.821]

tick_dates = ['2021-07-01', '2021-10-01', '2022-01-01', '2022-04-01', '2022-07-01',
              '2022-10-01', '2023-01-01', '2023-04-01', '2023-07-01', '2023-10-01',
              '2024-01-01', '2024-04-01', '2024-07-01', '2024-10-01', '2025-01-01',
              '2025-04-01', '2025-07-01', '2025-10-01', '2026-01-01', '2026-04-01']
tick_labels = ['Jul 21', 'Oct', 'Jan 22', 'Apr', 'Jul', 'Oct', 'Jan 23', 'Apr', 'Jul', 'Oct',
               'Jan 24', 'Apr', 'Jul', 'Oct', 'Jan 25', 'Apr', 'Jul', 'Oct', 'Jan 26', 'Apr']

# ---------------------------------------------------------------------------
x = mdates.date2num(weeks)
o = np.array(opens); h = np.array(highs); l = np.array(lows); c = np.array(closes)

GRID = '#dcdcdc'
FRAME = '#8c8c8c'
UP = '#00e000'
DOWN = '#ff0000'

fig = plt.figure(figsize=(W / 100, H / 100), dpi=100)


def panel(top, bottom):
    return fig.add_axes([48 / W, 1 - bottom / H, 1140 / W, (bottom - top) / H])


jul21 = mdates.date2num(pd.Timestamp('2021-07-01'))
px_day = 4.25 / 7
xlim = (jul21 - 33 / px_day, jul21 + 1107 / px_day)


def style(ax):
    ax.set_xlim(xlim)
    ax.xaxis.set_major_locator(mdates.MonthLocator())
    ax.tick_params(axis='x', length=0, labelbottom=False)
    ax.yaxis.tick_right()
    ax.tick_params(axis='y', length=3, width=0.8, color=FRAME, labelsize=8.2, pad=1)
    ax.grid(True, color=GRID, lw=1)
    ax.set_axisbelow(True)
    for s in ax.spines.values():
        s.set_color(FRAME)
        s.set_linewidth(1.3)


# ---- price panel ----
ax1 = panel(20, 628)
style(ax1)
ax1.set_ylim(2.987, 6.9297)
pt = np.round(np.arange(3.0, 6.81, 0.2), 1)
ax1.set_yticks(pt)
ax1.set_yticklabels(['' if abs(v - 6.2) < 1e-6 else f'{v:.4f}' for v in pt])

ax1.plot(mdates.date2num(weeks[sma_week]), sma200, color='#ff3030', lw=1.1, zorder=2)
ax1.plot(mdates.date2num(weeks[ema_week]), ema50, color='#33cc33', lw=1.1, zorder=2)

ax1.vlines(x, l, h, colors='black', lw=0.9, zorder=3)
body_lo = np.minimum(o, c)
body_h = np.maximum(np.abs(c - o), 0.004)
body_col = [UP if cc >= oo else DOWN for oo, cc in zip(o, c)]
ax1.bar(x, body_h, bottom=body_lo, width=5.3, color=body_col, edgecolor='black',
        linewidth=0.6, zorder=4)

# ---- COT legacy ----
ax2 = panel(629, 830)
style(ax2)
ax2.set_ylim(-101000, 100000)
t2 = np.arange(-100000, 80001, 20000)
ax2.set_yticks(t2)
ax2.set_yticklabels([f'{v}' for v in t2])
ax2.step(x, np.array(large_spec_k) * 1000, where='mid', color='#006400', lw=1.3)
ax2.step(x, np.array(commercials_k) * 1000, where='mid', color='#dd0000', lw=1.3)
ax2.step(x, np.array(small_spec_k) * 1000, where='mid', color='#000099', lw=1.3)

# ---- COT disaggregated ----
ax3 = panel(832, 1033)
style(ax3)
ax3.set_ylim(-151389, 127778)
t3 = np.arange(-150000, 100001, 50000)
ax3.set_yticks(t3)
ax3.set_yticklabels([f'{v}' for v in t3])
ax3.step(x, np.array(other_report_k) * 1000, where='mid', color='#ffa500', lw=1.3)
ax3.step(x, np.array(swap_dealers_k) * 1000, where='mid', color='#006400', lw=1.3)
ax3.step(x, np.array(producers_k) * 1000, where='mid', color='#dd0000', lw=1.3)
ax3.step(x, np.array(managed_money_k) * 1000, where='mid', color='#000099', lw=1.3)

# ---- volume / open interest ----
ax4 = panel(1035, 1236)
ax4.set_xlim(xlim)
ax4.set_ylim(-2.5, 497.5)
for s in ax4.spines.values():
    s.set_color(FRAME)
    s.set_linewidth(1.3)
ax4.set_xticks(mdates.date2num(pd.to_datetime(tick_dates)))
ax4.set_xticklabels(tick_labels, fontsize=8, fontweight='bold')
ax4.xaxis.set_minor_locator(mdates.MonthLocator())
ax4.tick_params(axis='x', which='both', length=0, pad=3)
ax4.grid(True, axis='x', which='both', color=GRID, lw=1)
vt = np.arange(0, 451, 50)
ax4.set_yticks(vt)
ax4.set_yticklabels([f'{v}K' if v <= 250 else '' for v in vt])
ax4.tick_params(axis='y', length=0, labelsize=8.2, pad=3)
ax4.grid(True, axis='y', color=GRID, lw=1)
ax4.set_axisbelow(True)

vcol = []
for i in range(len(c)):
    ref = o[0] if i == 0 else c[i - 1]
    vcol.append('#006600' if c[i] >= ref else '#ff0000')
ax4.bar(x, volume_k, width=4.8, color=vcol, zorder=2)

ax4b = ax4.twinx()
ax4b.set_xlim(xlim)
ax4b.set_ylim(139, 340)
ot = np.arange(140, 321, 20)
ax4b.set_yticks(ot)
ax4b.set_yticklabels([f'{v}K' for v in ot])
ax4b.tick_params(axis='y', length=3, width=0.8, color=FRAME, labelsize=8.2, pad=1)
for s in ax4b.spines.values():
    s.set_color(FRAME)
    s.set_linewidth(1.3)
ax4b.plot(x, open_interest_k, color='#a030ff', lw=1.2, zorder=3)


# ---- headers / legends ----
def header(top, items):
    fig.patches.append(Rectangle((49 / W, 1 - (top + 16) / H), 1138 / W, 15 / H,
                                 transform=fig.transFigure, facecolor='#e4e4f9',
                                 edgecolor='none', zorder=5))
    yc = top + 8.5
    for xs, col, txt in items:
        fig.patches.append(Rectangle((xs / W, 1 - (yc + 4) / H), 8 / W, 8 / H,
                                     transform=fig.transFigure, facecolor=col,
                                     edgecolor='black', lw=0.8, zorder=6))
        fig.text((xs + 11) / W, 1 - yc / H, txt, fontsize=7.9, va='center',
                 ha='left', color='#222222', zorder=7)


header(20, [(54, '#ff0000', f'Op:{opens[-1]:.4f}, Hi:{highs[-1]:.4f}, '
                            f'Lo:{lows[-1]:.4f}, Cl:{closes[-1]:.4f}'),
            (303, '#ff0000', f'SMA (200): {sma200[-1]:.4f}'),
            (431, '#00cc00', f'EXPMA (50): {ema50[-1]:.4f}')])
header(629, [(54, '#006400', f'Large Spec: {large_spec_k[-1] * 1000:.0f}'),
             (183, '#000099', f'Small Spec: {small_spec_k[-1] * 1000:.0f}'),
             (312, '#dd0000', f'Commercials: {commercials_k[-1] * 1000:.0f}')])
header(832, [(54, '#dd0000', f'Producers: {producers_k[-1] * 1000:.0f}'),
             (187, '#006400', f'Swap Dealers: {swap_dealers_k[-1] * 1000:.0f}'),
             (329, '#000099', f'Managed Money: {managed_money_k[-1] * 1000:.0f}'),
             (485, '#ffa500', f'Other Report: {other_report_k[-1] * 1000:.0f}')])
header(1035, [(54, '#006400', f'Vol: {volume_k[-1] * 1000:,.0f}'),
              (147, '#a030ff', f'Open Interest: {open_interest_k[-1] * 1000:,.0f}')])

fig.text(8 / W, 1 - 9 / H, 'HG - High Grade Copper - Weekly Nearest Candlestick Chart',
         fontsize=9.3, fontweight='bold', va='center', ha='left')
fig.text(60 / W, 1 - 613 / H, '\u00a9 Barchart.com', fontsize=7.6, va='center',
         ha='left', color='#333333')

# last price marker
last_y = 40 + (6.8 - closes[-1]) * 154.21
fig.text(1191 / W, 1 - last_y / H, f'{closes[-1]:.4f}', fontsize=8, color='white',
         va='center', ha='left', zorder=8,
         bbox=dict(facecolor='black', edgecolor='black', pad=1.0))

fig.savefig('out.png', dpi=100)
